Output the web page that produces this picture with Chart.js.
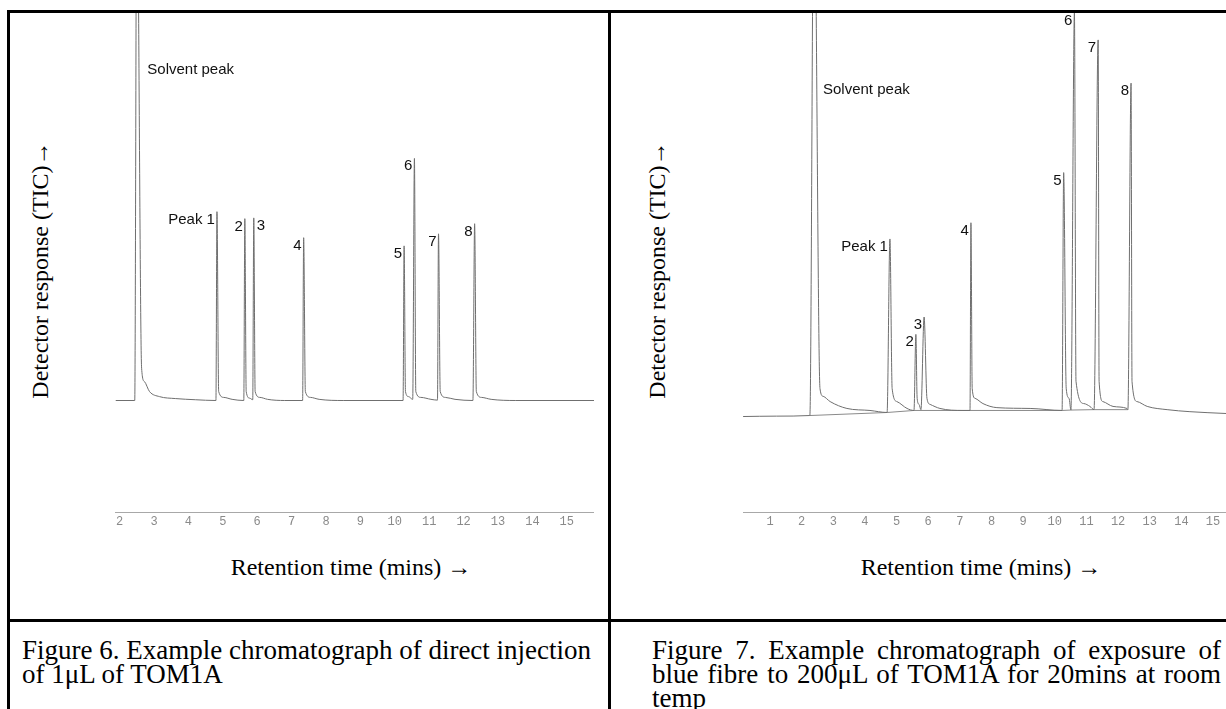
<!DOCTYPE html>
<html>
<head>
<meta charset="utf-8">
<script src="https://cdn.jsdelivr.net/npm/chart.js@4.4.1/dist/chart.umd.min.js"></script>
<style>
  body { margin: 0; background: #fff; }
  #page { position: relative; width: 1226px; height: 709px; overflow: hidden; background: #fff; }
  .rule { position: absolute; background: #000; z-index: 5; }
  .plot { position: absolute; }
  .ytitle, .xtitle, .caption { position: absolute; font-family: "Liberation Serif", "Times New Roman", serif; color: #000; }
  .ytitle { width: 320px; height: 30px; line-height: 30px; font-size: 24px; text-align: center; transform: rotate(-90deg); white-space: nowrap; }
  .xtitle { width: 320px; height: 30px; line-height: 30px; font-size: 24px; text-align: center; white-space: nowrap; }
  .caption { font-size: 27px; line-height: 24px; }
</style>
</head>
<body>
<div id="page">
  <div class="rule" style="left:7px;top:10px;width:1219px;height:3px"></div>
  <div class="rule" style="left:7px;top:10px;width:3px;height:699px"></div>
  <div class="rule" style="left:608px;top:10px;width:3px;height:699px"></div>
  <div class="rule" style="left:7px;top:619px;width:1219px;height:3px"></div>

  <canvas id="fig6" class="plot" width="481" height="527" style="left:113px;top:12px"></canvas>
  <canvas id="fig7" class="plot" width="483" height="527" style="left:743px;top:12px"></canvas>

  <div class="ytitle" style="left:-120px;top:255px">Detector response (TIC)→</div>
  <div class="ytitle" style="left:497px;top:255px">Detector response (TIC)→</div>
  <div class="xtitle" style="left:191px;top:552px">Retention time (mins) →</div>
  <div class="xtitle" style="left:821px;top:552px">Retention time (mins) →</div>

  <div class="caption" style="left:22px;top:638px;width:576px">Figure 6. Example chromatograph of direct injection of 1μL of TOM1A</div>
  <div class="caption" style="left:652px;top:638px;width:569px;text-align:justify">Figure 7. Example chromatograph of exposure of blue fibre to 200μL of TOM1A for 20mins at room temp</div>
</div>

<script>
// Figure 6 - direct injection, trace (time in min, response in % of full scale)
const fig6Time = [1.88, 2.44, 2.50, 2.64, 2.72, 2.87, 3.16, 3.62, 4.20,
    4.80, 4.83, 4.88, 5.03, 5.27,
    5.61, 5.64, 5.68, 5.78,
    5.87, 5.90, 5.94, 6.08, 6.30, 6.80,
    7.32, 7.35, 7.40, 7.55, 7.80, 8.50,
    10.24, 10.27, 10.31, 10.40,
    10.52, 10.57, 10.61, 10.76, 11.05,
    11.24, 11.27, 11.32, 11.47, 11.75,
    12.27, 12.32, 12.37, 12.52, 12.80, 13.50, 15.79];
const fig6Response = [0, 0, 140, 8.3, 4.9, 2.3, 1.0, 0.5, 0.2,
    0, 48.6, 2.3, 0.8, 0.3,
    0, 46.8, 2.3, 0.6,
    0.2, 47.0, 2.3, 0.8, 0.3, 0,
    0, 41.9, 2.3, 0.8, 0.3, 0,
    0, 39.8, 2.3, 1.0,
    0.3, 62.3, 2.3, 0.8, 0.3,
    0.1, 42.9, 2.3, 0.8, 0.3,
    0, 45.5, 2.3, 0.8, 0.3, 0, 0];
const fig6PeakNames = ['Peak 1', '2', '3', '4', '5', '6', '7', '8'];
const fig6PeakTimes = [4.83, 5.64, 5.90, 7.35, 10.27, 10.57, 11.27, 12.32];
const fig6PeakHeights = [48.6, 46.8, 47.0, 41.9, 39.8, 62.3, 42.9, 45.5];
const fig6Ticks = [2, 3, 4, 5, 6, 7, 8, 9, 10, 11, 12, 13, 14, 15];

// Figure 7 - blue fibre exposure
const fig7Time = [0.15, 1.20, 2.26, 2.39, 2.58, 2.68, 2.90, 3.43, 4.16,
    4.70, 4.79, 4.86, 5.01, 5.33,
    5.55, 5.61, 5.65, 5.71,
    5.77, 5.87, 5.96, 6.06, 6.37, 7.10,
    7.32, 7.35, 7.39, 7.48, 7.73, 8.17, 9.22,
    10.23, 10.28, 10.36, 10.45,
    10.51, 10.62, 10.67, 10.92, 11.11,
    11.24, 11.37, 11.40, 11.52, 11.84, 12.28,
    12.31, 12.41, 12.44, 12.60, 12.92, 13.55, 14.27, 15.41];
const fig7Response = [0, 0.1, 0.25, 140, 6.9, 5.0, 3.7, 2.0, 1.5,
    1.0, 43.9, 6.9, 3.7, 2.0,
    1.5, 20.3, 4.5, 3.0,
    1.7, 24.6, 4.5, 3.0, 2.0, 1.5,
    1.5, 47.9, 6.9, 4.5, 3.2, 2.2, 2.0,
    1.5, 60.3, 7.0, 4.5,
    1.6, 99.8, 8.7, 3.2, 2.5,
    1.7, 93.1, 8.7, 3.7, 2.5, 2.0,
    1.7, 82.4, 8.7, 3.7, 2.5, 1.7, 1.2, 0.75];
// integration baseline drawn under the tails
const fig7BaseTime = [2.26, 4.70, 5.55, 7.32, 10.23, 10.51, 11.24, 12.31];
const fig7BaseResponse = [0.25, 1.0, 1.5, 1.5, 1.5, 1.6, 1.7, 1.7];
const fig7PeakNames = ['Peak 1', '2', '3', '4', '5', '6', '7', '8'];
const fig7PeakTimes = [4.79, 5.61, 5.87, 7.35, 10.28, 10.62, 11.37, 12.41];
const fig7PeakHeights = [43.9, 20.3, 24.6, 47.9, 60.3, 99.8, 93.1, 82.4];
const fig7Ticks = [1, 2, 3, 4, 5, 6, 7, 8, 9, 10, 11, 12, 13, 14, 15];

const TRACE = '#6f6f6f';

function toPoints(xs, ys) {
    return xs.map((x, i) => ({ x: x, y: ys[i] }));
}

// labels next to each peak apex, plus the "Solvent peak" note
function labelPlugin(names, times, heights, rightSide, solvent) {
    return {
        id: 'peakLabels',
        afterDatasetsDraw(chart) {
            const ctx = chart.ctx;
            const xs = chart.scales.x, ys = chart.scales.y;
            ctx.save();
            ctx.font = '15px "Liberation Sans", Arial, sans-serif';
            ctx.fillStyle = '#111';
            ctx.textBaseline = 'alphabetic';
            names.forEach((name, i) => {
                const px = xs.getPixelForValue(times[i]);
                const py = ys.getPixelForValue(heights[i]);
                if (rightSide.includes(name)) {
                    ctx.textAlign = 'left';
                    ctx.fillText(name, px + 3, py + 12);
                } else {
                    ctx.textAlign = 'right';
                    ctx.fillText(name, px - 2, py + 12);
                }
            });
            ctx.textAlign = 'left';
            ctx.fillText('Solvent peak', xs.getPixelForValue(solvent[0]), ys.getPixelForValue(solvent[1]) + 11);
            ctx.restore();
        }
    };
}

function makeChart(id, datasets, xMin, xMax, yMin, ticks, plugin) {
    return new Chart(document.getElementById(id), {
        type: 'line',
        data: { datasets: datasets },
        options: {
            responsive: false,
            animation: false,
            devicePixelRatio: 1,
            layout: { padding: 0 },
            plugins: { legend: { display: false }, tooltip: { enabled: false } },
            elements: { point: { radius: 0 } },
            scales: {
                x: {
                    type: 'linear',
                    min: xMin,
                    max: xMax,
                    afterBuildTicks: (scale) => { scale.ticks = ticks.map(v => ({ value: v })); },
                    afterFit: (scale) => { scale.height = 27; },
                    grid: { display: false, drawTicks: false },
                    border: { display: true, color: '#a8a8a8', width: 1, dash: [1, 2] },
                    ticks: {
                        autoSkip: false,
                        maxRotation: 0,
                        padding: 3,
                        color: '#8a8a8a',
                        font: { family: '"Liberation Mono", "DejaVu Sans Mono", monospace', size: 12 }
                    }
                },
                y: { display: false, min: yMin, max: 100 }
            }
        },
        plugins: [plugin]
    });
}

makeChart('fig6', [{
    label: 'TIC',
    data: toPoints(fig6Time, fig6Response),
    borderColor: TRACE,
    borderWidth: 1,
    cubicInterpolationMode: 'monotone',
    fill: false
}], 1.88, 15.79, -28.7, fig6Ticks,
    labelPlugin(fig6PeakNames, fig6PeakTimes, fig6PeakHeights, ['3'], [2.805, 86.8]));

makeChart('fig7', [{
    label: 'TIC',
    data: toPoints(fig7Time, fig7Response),
    borderColor: TRACE,
    borderWidth: 1,
    cubicInterpolationMode: 'monotone',
    fill: false
}, {
    label: 'Baseline',
    data: toPoints(fig7BaseTime, fig7BaseResponse),
    borderColor: '#8a8a8a',
    borderWidth: 1,
    tension: 0,
    fill: false
}], 0.147, 15.41, -23.6, fig7Ticks,
    labelPlugin(fig7PeakNames, fig7PeakTimes, fig7PeakHeights, [], [2.675, 82.4]));
</script>
</body>
</html>
